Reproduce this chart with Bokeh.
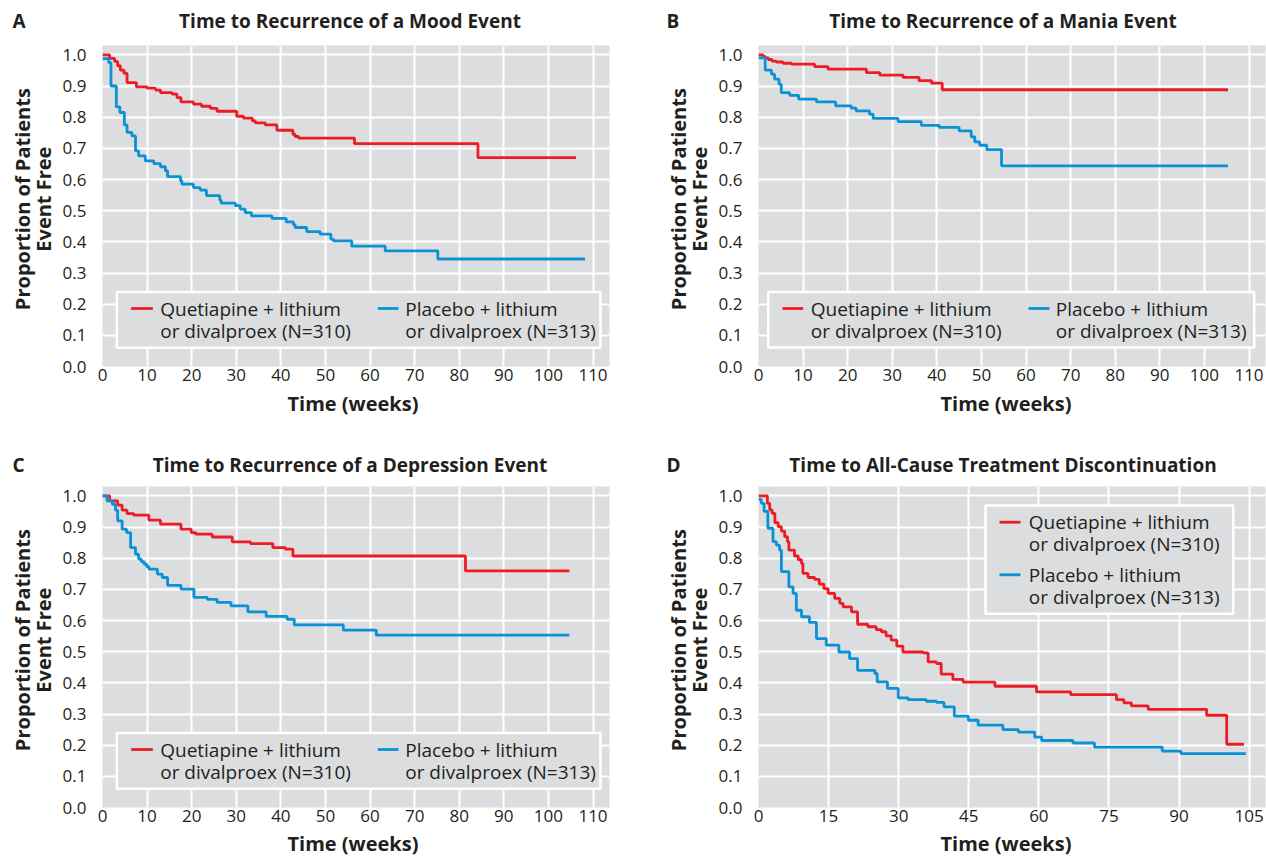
import math
from bokeh.plotting import figure
from bokeh.models import Label, BoxAnnotation, Range1d, FixedTicker, PrintfTickFormatter
from bokeh.layouts import column, row
from bokeh.embed import file_html
from bokeh.resources import INLINE
from bokeh.core.properties import value

# ---------------- data ----------------
Y_TICKS = [0.0, 0.1, 0.2, 0.3, 0.4, 0.5, 0.6, 0.7, 0.8, 0.9, 1.0]
X_TICKS_110 = [0, 10, 20, 30, 40, 50, 60, 70, 80, 90, 100, 110]
X_TICKS_105 = [0, 15, 30, 45, 60, 75, 90, 105]

LETTERS = ["A", "B", "C", "D"]
TITLES = ["Time to Recurrence of a Mood Event",
          "Time to Recurrence of a Mania Event",
          "Time to Recurrence of a Depression Event",
          "Time to All-Cause Treatment Discontinuation"]
X_LABEL = "Time (weeks)"
Y_LABEL = ["Proportion of Patients", "Event Free"]
LABEL_Q = ["Quetiapine + lithium", "or divalproex (N=310)"]
LABEL_P = ["Placebo + lithium", "or divalproex (N=313)"]

# Panel A: mood event
a_q_t = [0, 1.6, 2.7, 3.4, 4.0, 4.8, 5.5, 7.6, 10.0, 11.9, 13.0, 15.6, 16.7, 17.6, 20.4, 22.2,
         24.2, 25.7, 30.1, 31.6, 33.6, 34.3, 36.5, 39.1, 42.7, 43.2, 44.0, 56.5, 84.2, 106.2]
a_q_s = [1.0, 0.989, 0.979, 0.965, 0.951, 0.941, 0.911, 0.897, 0.893, 0.887, 0.879, 0.874, 0.863,
         0.849, 0.842, 0.835, 0.828, 0.819, 0.803, 0.797, 0.788, 0.782, 0.775, 0.758, 0.745, 0.738,
         0.733, 0.715, 0.670, 0.670]
a_p_t = [0, 1.4, 1.9, 3.1, 3.9, 4.9, 5.5, 6.6, 7.4, 8.1, 9.6, 11.5, 13.0, 14.1, 14.6, 17.5, 17.8,
         20.4, 21.9, 23.3, 26.3, 26.6, 29.8, 30.9, 32.0, 33.4, 38.0, 41.2, 42.8, 43.2, 45.8, 48.8,
         51.2, 51.8, 55.9, 63.4, 75.2, 108.2]
a_p_s = [0.988, 0.975, 0.900, 0.833, 0.815, 0.775, 0.751, 0.740, 0.692, 0.676, 0.660, 0.651, 0.641,
         0.628, 0.609, 0.596, 0.585, 0.574, 0.566, 0.548, 0.534, 0.524, 0.516, 0.505, 0.494, 0.483,
         0.475, 0.464, 0.455, 0.446, 0.433, 0.425, 0.409, 0.403, 0.386, 0.371, 0.345, 0.345]

# Panel B: mania event
b_q_t = [0, 1.0, 1.5, 2.2, 3.0, 4.0, 5.5, 7.4, 12.6, 15.6, 24.2, 27.2, 32.4, 36.0, 38.8, 41.2, 105.3]
b_q_s = [1.0, 0.995, 0.990, 0.985, 0.980, 0.977, 0.973, 0.970, 0.962, 0.954, 0.943, 0.935, 0.928,
         0.917, 0.909, 0.888, 0.888]
b_p_t = [0, 1.5, 2.9, 3.6, 4.6, 5.1, 7.0, 9.0, 13.0, 17.3, 20.8, 21.9, 24.9, 25.7, 31.3, 36.5, 40.5,
         45.0, 47.7, 48.5, 49.6, 51.2, 54.5, 105.3]
b_p_s = [0.990, 0.951, 0.938, 0.922, 0.906, 0.879, 0.870, 0.858, 0.849, 0.836, 0.829, 0.820, 0.810,
         0.796, 0.786, 0.774, 0.767, 0.756, 0.737, 0.721, 0.710, 0.696, 0.644, 0.644]

# Panel C: depression event
c_q_t = [0, 1.6, 3.4, 4.4, 5.5, 7.0, 10.4, 13.0, 17.6, 19.9, 20.9, 24.6, 29.1, 33.2, 38.2, 41.0,
         42.7, 81.4, 104.7]
c_q_s = [1.0, 0.984, 0.970, 0.954, 0.943, 0.938, 0.922, 0.909, 0.893, 0.882, 0.877, 0.868, 0.852,
         0.847, 0.834, 0.829, 0.807, 0.759, 0.759]
c_p_t = [0, 1.0, 2.2, 2.9, 3.4, 4.4, 5.4, 6.3, 7.4, 8.1, 8.7, 9.3, 9.9, 10.4, 12.3, 13.4, 14.6, 17.6,
         20.5, 23.5, 25.7, 28.8, 32.6, 36.7, 41.4, 43.0, 54.0, 61.4, 104.7]
c_p_s = [1.0, 0.984, 0.973, 0.954, 0.920, 0.893, 0.882, 0.834, 0.813, 0.797, 0.789, 0.781, 0.773,
         0.765, 0.749, 0.738, 0.713, 0.701, 0.674, 0.668, 0.658, 0.647, 0.628, 0.613, 0.604, 0.586,
         0.569, 0.553, 0.553]

# Panel D: all-cause discontinuation
d_q_t = [0, 1.9, 2.4, 2.9, 3.5, 4.2, 4.9, 5.6, 6.2, 6.5, 7.7, 8.5, 9.2, 9.5, 10.6, 12.0, 13.0, 14.0,
         14.9, 16.3, 17.4, 18.1, 19.9, 21.2, 23.4, 25.2, 26.3, 27.3, 28.4, 29.6, 30.9, 35.2, 36.3,
         38.1, 39.1, 41.6, 43.8, 50.6, 59.5, 66.8, 76.6, 78.2, 79.8, 83.4, 95.9, 100.2, 103.9]
d_q_s = [1.0, 0.976, 0.955, 0.944, 0.914, 0.901, 0.887, 0.869, 0.853, 0.826, 0.807, 0.795, 0.783,
         0.751, 0.738, 0.732, 0.717, 0.702, 0.687, 0.671, 0.655, 0.644, 0.628, 0.588, 0.580, 0.571,
         0.564, 0.551, 0.537, 0.518, 0.499, 0.496, 0.467, 0.462, 0.428, 0.411, 0.402, 0.389, 0.371,
         0.362, 0.346, 0.336, 0.326, 0.315, 0.296, 0.203, 0.203]
d_p_t = [0, 0.6, 1.2, 2.0, 3.1, 3.8, 4.5, 4.9, 6.5, 7.4, 8.1, 9.2, 10.9, 12.4, 14.5, 17.2, 19.5, 21.2,
         24.9, 25.4, 27.6, 29.9, 32.0, 35.9, 38.1, 39.7, 41.9, 44.9, 47.0, 52.3, 55.6, 59.1, 60.6,
         67.3, 71.9, 86.4, 90.4, 104.3]
d_p_s = [0.989, 0.976, 0.950, 0.896, 0.853, 0.842, 0.826, 0.757, 0.708, 0.687, 0.633, 0.612, 0.594,
         0.542, 0.521, 0.499, 0.478, 0.440, 0.430, 0.403, 0.382, 0.352, 0.346, 0.341, 0.337, 0.323,
         0.293, 0.280, 0.264, 0.250, 0.242, 0.226, 0.215, 0.207, 0.194, 0.181, 0.173, 0.173]

# ---------------- style / geometry ----------------
RED = "#ED1C24"
BLUE = "#0A92D6"
BG = "#DCDDDF"
TXT = "#231F20"
FONT = "Open Sans"

FW, FH = 507, 321          # plot frame size in px
Y0, Y1 = 0.0, 1.03
SY = FH / (Y1 - Y0)
TOTAL_W = 1263
LS1_W, PL_BORDER, PA_RIGHT, LS2_W, PB_RIGHT = 59, 40, 30, 76, 4
TOP_BORDER = 8
BOTTOM_BORDER = 22
ROW_H = TOP_BORDER + FH + BOTTOM_BORDER
TOP_H = 45 - TOP_BORDER                      # strip above row 1
MID_H = 120 - BOTTOM_BORDER - TOP_BORDER     # strip between rows
BOT_H = 857 - (TOP_H + ROW_H + MID_H + ROW_H)
COL1_FRAME_CX = LS1_W + PL_BORDER + FW / 2
COL2_LEFT = LS1_W + PL_BORDER + FW + PA_RIGHT
COL2_FRAME_CX = COL2_LEFT + LS2_W + PL_BORDER + FW / 2


def strip(w, h):
    s = figure(width=w, height=h, x_range=Range1d(0, w), y_range=Range1d(0, h),
               output_backend="svg", toolbar_location=None, min_border=0,
               x_axis_location=None, y_axis_location=None)
    s.grid.visible = False
    s.outline_line_color = None
    s.background_fill_color = "white"
    s.border_fill_color = "white"
    return s


def put_text(s, x, y_from_top, txt, size, bold=False, align="center", angle=0.0):
    h = s.height
    s.text(x=[x], y=[h - y_from_top], text=[txt], text_font=value(FONT),
           text_font_size=value(size), text_font_style="bold" if bold else "normal",
           text_align=align, text_baseline="middle", text_color=TXT, angle=angle)


def title_row(s, y, i_left, i_right):
    for i, cx, lx in ((i_left, COL1_FRAME_CX - 3, 12), (i_right, COL2_FRAME_CX - 3, 666)):
        put_text(s, lx, y, LETTERS[i], "19px", bold=True, align="left")
        put_text(s, cx, y, TITLES[i], "19px", bold=True)


def ylabel_strip(w, h, x1, x2):
    s = strip(w, h)
    cy = TOP_BORDER + FH / 2 - 0.5
    put_text(s, x1, cy, Y_LABEL[0], "20px", bold=True, angle=math.pi / 2)
    put_text(s, x2, cy, Y_LABEL[1], "20px", bold=True, angle=math.pi / 2)
    return s


def make_panel(qt, qs, pt, ps, xmax, xticks, mb_right, legend):
    p = figure(frame_width=FW, frame_height=FH, x_range=Range1d(0, xmax),
               y_range=Range1d(Y0, Y1), output_backend="svg", toolbar_location=None,
               min_border_left=PL_BORDER, min_border_right=mb_right,
               min_border_top=TOP_BORDER, min_border_bottom=BOTTOM_BORDER)
    p.background_fill_color = BG
    p.border_fill_color = "white"
    p.outline_line_color = None

    def X(dx):
        return xmax * dx / FW

    def Y(dy):
        return Y1 - dy / SY

    p.xgrid.ticker = FixedTicker(ticks=xticks)
    p.ygrid.ticker = FixedTicker(ticks=Y_TICKS)
    for g in (p.xgrid, p.ygrid):
        g.grid_line_color = "white"
        g.grid_line_width = 2
    p.xaxis.ticker = FixedTicker(ticks=xticks)
    p.yaxis.ticker = FixedTicker(ticks=Y_TICKS)
    p.yaxis.formatter = PrintfTickFormatter(format="%.1f")
    for ax in (p.xaxis, p.yaxis):
        ax.axis_line_color = None
        ax.major_tick_line_color = None
        ax.minor_tick_line_color = None
        ax.major_label_text_font = FONT
        ax.major_label_text_font_size = "17px"
        ax.major_label_text_color = TXT
    p.xaxis.major_label_standoff = -4
    p.yaxis.major_label_standoff = 10

    p.step(qt, qs, mode="after", line_color=RED, line_width=2.8)
    p.step(pt, ps, mode="after", line_color=BLUE, line_width=2.8)

    # legend box with two-line entries
    bl, bt, br, bb = legend["box"]
    p.add_layout(BoxAnnotation(left=X(bl), right=X(br), top=Y(bt), bottom=Y(bb),
                               fill_color=BG, fill_alpha=1.0, line_color="white",
                               line_width=2.5, line_alpha=1.0))
    for (lx0, lx1, tx, dy1, dy2), col, lab in zip(legend["entries"], (RED, BLUE),
                                                 (LABEL_Q, LABEL_P)):
        p.segment(x0=[X(lx0)], y0=[Y(dy1)], x1=[X(lx1)], y1=[Y(dy1)], line_color=col,
                  line_width=2.8, level="overlay")
        for dy, txt in zip((dy1, dy2), lab):
            p.add_layout(Label(x=X(tx), y=Y(dy), text=txt, text_align="left",
                               text_baseline="middle", text_font=FONT, text_font_size="19px",
                               text_color=TXT, level="overlay"))
    return p


leg_ac = {"box": (14.3, 246.6, 498.0, 302.3),
          "entries": [(28.7, 50.3, 57.7, 263.0, 285.0), (275.3, 296.0, 302.7, 263.0, 285.0)]}
leg_b = {"box": (9.7, 246.6, 495.7, 302.0),
         "entries": [(24.0, 44.7, 52.3, 263.0, 285.0), (270.0, 291.0, 297.3, 263.0, 285.0)]}
leg_d = {"box": (227.0, 19.0, 474.7, 127.3),
         "entries": [(241.0, 262.0, 270.3, 35.7, 57.3), (241.0, 262.0, 270.3, 88.3, 110.0)]}

pA = make_panel(a_q_t, a_q_s, a_p_t, a_p_s, 113.7, X_TICKS_110, PA_RIGHT, leg_ac)
pB = make_panel(b_q_t, b_q_s, b_p_t, b_p_s, 113.7, X_TICKS_110, PB_RIGHT, leg_b)
pC = make_panel(c_q_t, c_q_s, c_p_t, c_p_s, 113.7, X_TICKS_110, PA_RIGHT, leg_ac)
pD = make_panel(d_q_t, d_q_s, d_p_t, d_p_s, 108.5, X_TICKS_105, PB_RIGHT, leg_d)

top = strip(TOTAL_W, TOP_H)
title_row(top, 20, 0, 1)

mid = strip(TOTAL_W, MID_H)
put_text(mid, COL1_FRAME_CX, 15, X_LABEL, "20px", bold=True)
put_text(mid, COL2_FRAME_CX, 15, X_LABEL, "20px", bold=True)
title_row(mid, MID_H - 14, 2, 3)

bot = strip(TOTAL_W, BOT_H)
put_text(bot, COL1_FRAME_CX, BOT_H - 14, X_LABEL, "20px", bold=True)
put_text(bot, COL2_FRAME_CX, BOT_H - 14, X_LABEL, "20px", bold=True)

lsA = ylabel_strip(LS1_W, ROW_H, 22, 43)
lsB = ylabel_strip(LS2_W, ROW_H, 39, 60)
lsC = ylabel_strip(LS1_W, ROW_H, 22, 43)
lsD = ylabel_strip(LS2_W, ROW_H, 39, 60)

layout = column(top, row(lsA, pA, lsB, pB), mid, row(lsC, pC, lsD, pD), bot)
open("out.html", "w").write(file_html(layout, INLINE))
